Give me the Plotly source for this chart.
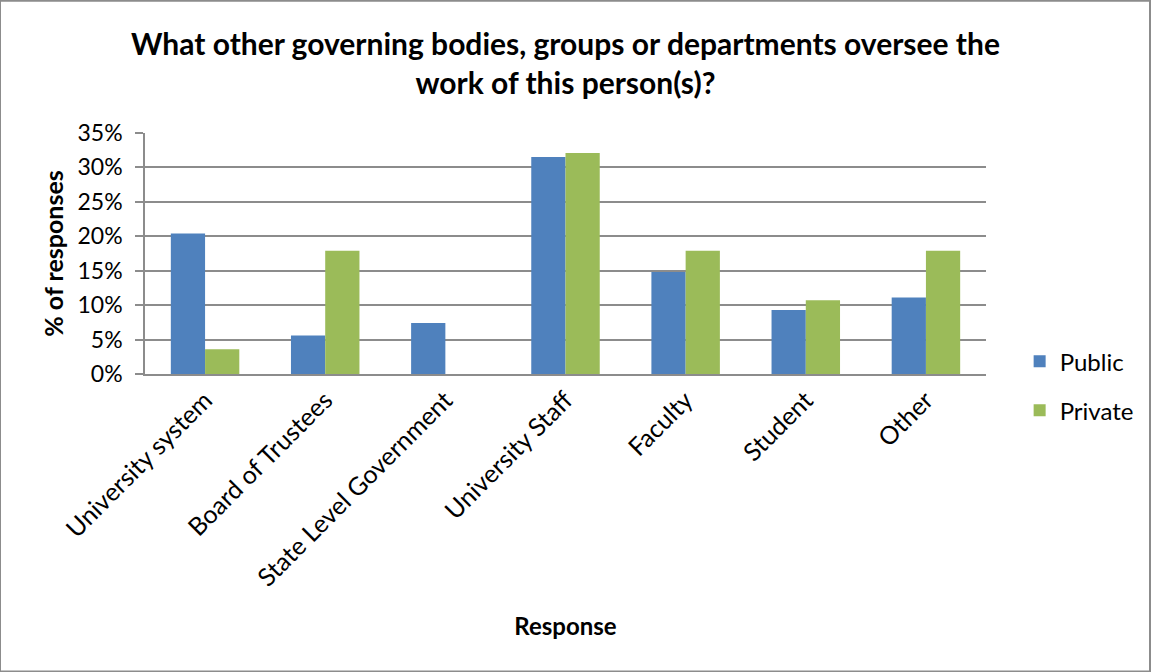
import plotly.graph_objects as go

categories = ["University system", "Board of Trustees", "State Level Government",
              "University Staff", "Faculty", "Student", "Other"]
public_share = [0.204, 0.056, 0.074, 0.315, 0.148, 0.093, 0.111]
private_share = [0.036, 0.179, 0.0, 0.321, 0.179, 0.107, 0.179]

FONT = "Lato"
BLUE = "#4F81BD"
GREEN = "#9BBB59"
GRID = "#8C8C8C"

fig = go.Figure()
fig.add_trace(go.Bar(name="Public", x=categories, y=public_share,
                     marker=dict(color=BLUE, line=dict(width=0)), legendgroup="a"))
fig.add_trace(go.Bar(name="Private", x=categories, y=private_share,
                     marker=dict(color=GREEN, line=dict(width=0)), legendgroup="b"))

fig.update_layout(
    width=1152, height=672,
    margin=dict(l=145, r=166, t=133, b=298),
    paper_bgcolor="white", plot_bgcolor="white",
    barmode="group", bargap=0.43, bargroupgap=0,
    font=dict(family=FONT, color="black", size=24),
    title=dict(
        text="<b>What other governing bodies, groups or departments oversee the<br>work of this person(s)?</b>",
        x=0.5, xanchor="center", xref="paper", y=0.918, yanchor="middle",
        font=dict(family=FONT, size=30, color="black"),
    ),
    legend=dict(x=1.04, y=-0.05, xanchor="left", yanchor="middle",
                font=dict(size=24), tracegroupgap=15, bgcolor="rgba(0,0,0,0)"),
    showlegend=True,
)
fig.update_yaxes(
    range=[0, 0.35], dtick=0.05, tickformat=".0%",
    showgrid=True, gridcolor=GRID, gridwidth=1.5,
    showline=True, linecolor=GRID, linewidth=1.5,
    ticks="outside", ticklen=8, tickcolor=GRID, tickwidth=1.5,
    ticklabelstandoff=8, tickfont=dict(size=23),
    zeroline=False,
    title=dict(text="<b>% of responses</b>", font=dict(size=25), standoff=7),
)
fig.update_xaxes(
    tickangle=-45, showline=True, linecolor=GRID, linewidth=1.5,
    ticks="", showgrid=False, tickfont=dict(size=25),
    title=dict(text="<b>Response</b>", font=dict(size=24), standoff=28),
)
fig.add_shape(type="rect", xref="x domain", yref="y domain",
              x0=-145/841, x1=1 + 164/841, y0=-297/240.5, y1=1 + 132/240.5,
              line=dict(color="#8C8C8C", width=2), fillcolor="rgba(0,0,0,0)")

fig.write_html("out.html")
